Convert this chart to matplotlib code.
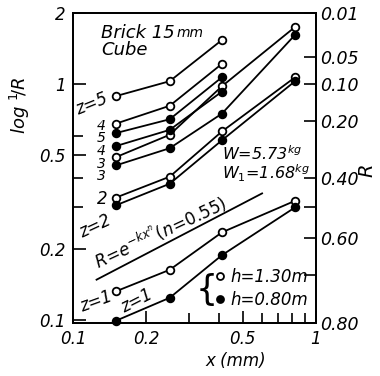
import matplotlib
matplotlib.use("Agg")
import matplotlib.pyplot as plt
import numpy as np
from matplotlib.lines import Line2D

# ---- data ----
x_sizes = [0.15, 0.25, 0.41, 0.82]          # x (mm)

# log(1/R); open = h 1.30 m, filled = h 0.80 m
open_z5 = [0.89, 1.03, 1.54]
open_z4 = [0.68, 0.81, 1.22]
open_z3 = [0.49, 0.61, 0.98, 1.75]
open_z2 = [0.33, 0.405, 0.63, 1.07]
open_z1 = [0.132, 0.163, 0.235, 0.32]
fill_z5 = [0.62, 0.71, 1.07]
fill_z4 = [0.546, 0.64, 0.93]
fill_z3 = [0.452, 0.535, 0.75, 1.62]
fill_z2 = [0.306, 0.378, 0.578, 1.03]
fill_z1 = [0.099, 0.124, 0.188, 0.30]

ref_x = [0.125, 0.6]      # R = exp(-k x^n), n = 0.55
ref_y = [0.148, 0.344]

left_major = [0.1, 0.2, 0.5, 1, 2]
left_labels = ["0.1", "0.2", "0.5", "1", "2"]
left_minor = [0.3, 0.4, 0.6]
x_major = [0.1, 0.2, 0.5, 1]
x_labels = ["0.1", "0.2", "0.5", "1"]
x_minor = [0.3, 0.4, 0.6, 0.7, 0.8, 0.9]
right_R = [0.01, 0.05, 0.10, 0.20, 0.40, 0.60, 0.80]
right_labels = ["0.01", "0.05", "0.10", "0.20", "0.40", "0.60", "0.80"]
right_minor_R = [0.50, 0.70]

plt.rcParams['font.family'] = ['DejaVu Sans']
plt.rcParams['mathtext.fontset'] = 'dejavusans'

W, H = 380, 376
fig = plt.figure(figsize=(W / 100, H / 100), dpi=100)
L, R_, T, B = 73, 316, 13.3, 323
ax = fig.add_axes([L / W, 1 - B / H, (R_ - L) / W, (B - T) / H])
ax.set_xscale('log')
ax.set_yscale('log')
ax.set_xlim(0.1, 1)
ax.set_ylim(np.log10(1 / 0.80), 2)

def P(px, py):
    return ((px - L) / (R_ - L), (B - py) / (B - T))

lw = 1.3
ms = 5.5
series = [(open_z5, 'white'), (open_z4, 'white'), (open_z3, 'white'),
          (open_z2, 'white'), (open_z1, 'white'),
          (fill_z5, 'black'), (fill_z4, 'black'), (fill_z3, 'black'),
          (fill_z2, 'black'), (fill_z1, 'black')]
for vals, fc in series:
    ax.plot(x_sizes[:len(vals)], vals, '-', color='black', lw=lw,
            marker='o', ms=ms, mfc=fc, mec='black', mew=1.3, zorder=3,
            clip_on=False)

ax.plot(ref_x, ref_y, '-', color='black', lw=lw)

for sp in ax.spines.values():
    sp.set_linewidth(1.3)

tick_font = dict(family='DejaVu Sans', style='oblique', size=12)
ax.set_xticks(x_major)
ax.set_xticklabels(x_labels, **tick_font)
ax.set_xticks(x_minor, minor=True)
ax.set_xticklabels([], minor=True)
ax.set_yticks(left_major)
ax.set_yticklabels(left_labels, **tick_font)
ax.set_yticks(left_minor, minor=True)
ax.set_yticklabels([], minor=True)
ax.tick_params(which='both', direction='in', top=False, right=False,
               width=1.2)
ax.tick_params(which='major', length=9, pad=5)
ax.tick_params(which='minor', length=7)

ax2 = ax.twinx()
ax2.set_yscale('log')
ax2.set_ylim(ax.get_ylim())
ax2.set_yticks([np.log10(1 / r) for r in right_R])
ax2.set_yticklabels(right_labels, **dict(tick_font, size=12.5))
ax2.set_yticks([np.log10(1 / r) for r in right_minor_R], minor=True)
ax2.set_yticklabels([], minor=True)
ax2.tick_params(which='both', direction='in', length=9, width=1.2, pad=3)
for sp in ax2.spines.values():
    sp.set_linewidth(1.3)

txt = dict(style='oblique', color='black', transform=ax.transAxes)

t1 = ax.text(*P(101, 38), "Brick 15", fontsize=13, ha='left',
             va='baseline', **txt)
ax.annotate("mm", xy=(1.03, 0.12), xycoords=t1, fontsize=10,
            style='oblique', ha='left', va='bottom')
ax.text(*P(101, 55), "Cube", fontsize=13, ha='left', va='baseline', **txt)

ax.text(*P(92, 104), "z=5", fontsize=12, rotation=22, ha='center',
        va='center', **txt)
for lab, py in zip(["4", "5", "4", "3", "3"], [126, 138.5, 151, 163.5, 176]):
    ax.text(*P(101, py), lab, fontsize=10, ha='center', va='center',
            **txt)
ax.text(*P(102, 199), "2", fontsize=12, ha='center', va='center', **txt)
ax.text(*P(95, 226), "z=2", fontsize=12, rotation=25, ha='center',
        va='center', **txt)
ax.text(*P(96, 302), "z=1", fontsize=12, rotation=20, ha='center',
        va='center', **txt)
ax.text(*P(137, 301), "z=1", fontsize=12, rotation=27, ha='center',
        va='center', **txt)
ax.text(*P(160, 232), r"$R\!=\!e^{-kx^n}(n\!=\!0.55)$", fontsize=12,
        rotation=25, ha='center', va='center', transform=ax.transAxes)
ax.text(*P(222, 154), "W=5.73$^{kg}$", fontsize=11.5, ha='left',
        va='center', **txt)
ax.text(*P(222, 173), "W$_1$=1.68$^{kg}$", fontsize=11.5, ha='left',
        va='center', **txt)

ax.text(*P(207, 290), "{", fontsize=25, ha='center', va='center',
        family='DejaVu Sans', transform=ax.transAxes)
handles = [Line2D([], [], ls='none', marker='o', ms=5, mfc='white',
                  mec='black', mew=1.3),
           Line2D([], [], ls='none', marker='o', ms=5, mfc='black',
                  mec='black', mew=1.3)]
ax.legend(handles, ["h=1.30m", "h=0.80m"], loc='upper left',
          bbox_to_anchor=P(215, 268), frameon=False, handlelength=0.6,
          handletextpad=0.35, labelspacing=0.3, borderpad=0,
          borderaxespad=0,
          prop=dict(family='DejaVu Sans', style='oblique', size=12))

fig.text(20 / W, 1 - 105 / H, r"log $^1\!/R$", rotation=90, fontsize=13,
         style='oblique', ha='center', va='center')
fig.text(367 / W, 1 - 170 / H, "R", rotation=90, fontsize=14,
         style='oblique', ha='center', va='center')
fig.text(236 / W, 1 - 361 / H, "x (mm)", fontsize=12, style='oblique',
         ha='center', va='center')

fig.savefig("out.png", dpi=100)
